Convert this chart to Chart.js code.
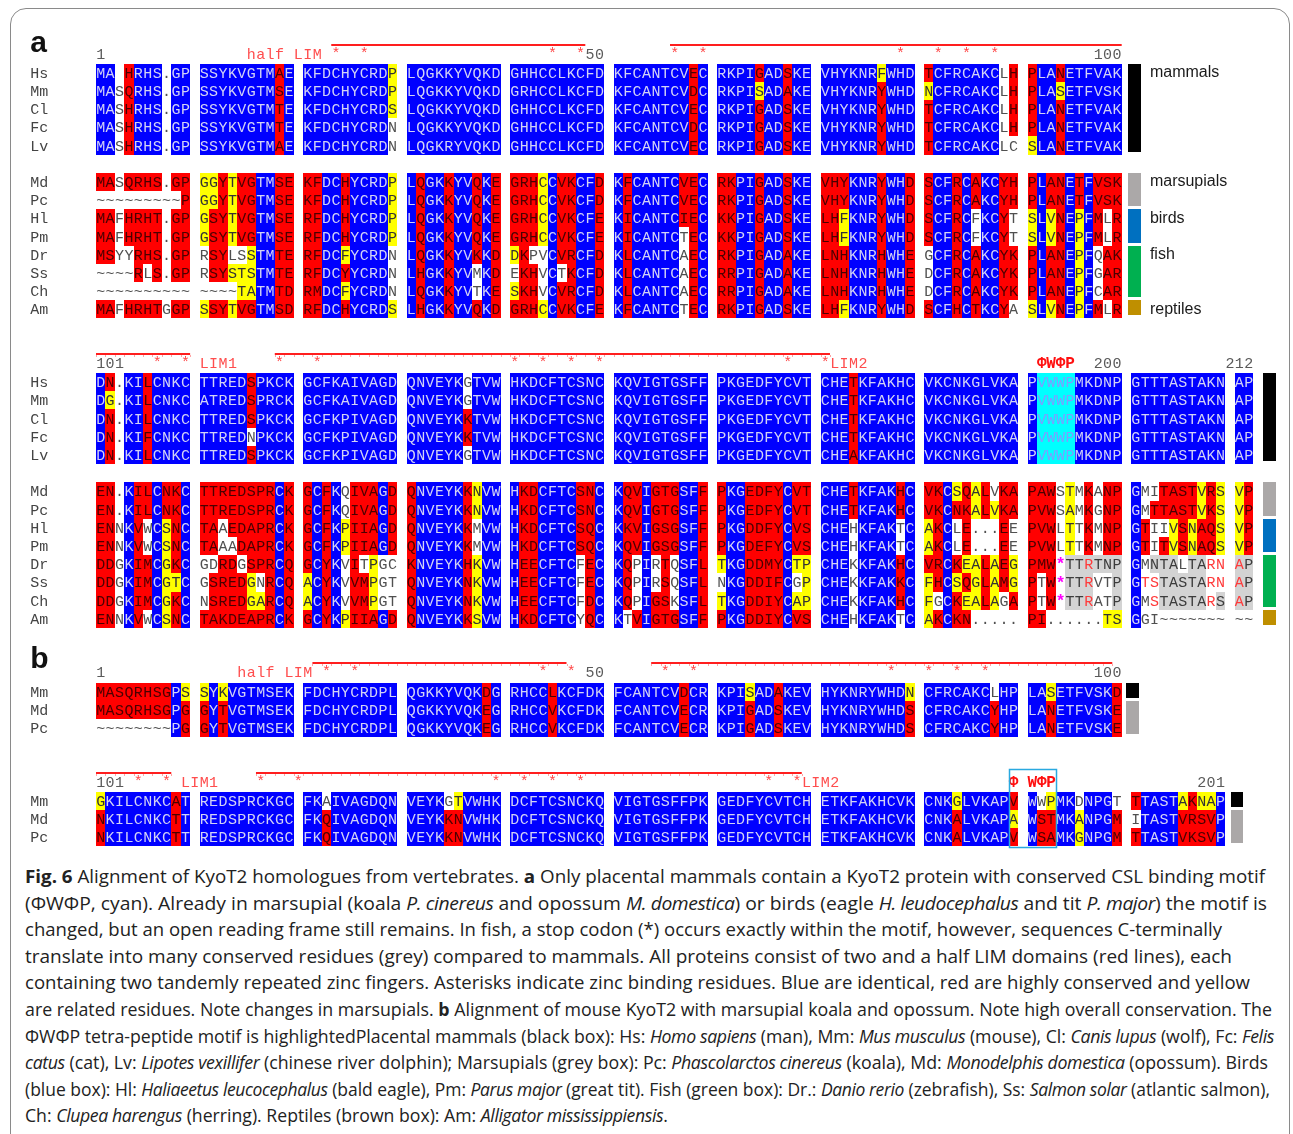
<!DOCTYPE html>
<html>
<head>
<meta charset="utf-8">
<script src="https://cdn.jsdelivr.net/npm/chart.js@4.4.0/dist/chart.umd.min.js"></script>
<style>
  html, body { margin: 0; padding: 0; background: #fff; }
  body { width: 1293px; height: 1134px; position: relative; overflow: hidden; }
  #frame { position: absolute; left: 10px; top: 8px; width: 1278px; height: 1200px; border: 1px solid #8a8a8a; border-radius: 16px; }
  #wrap { position: absolute; left: 0; top: 0; width: 1293px; height: 860px; }
  #caption { position: absolute; left: 25px; top: 863px; font-family: 'Open Sans', 'Noto Sans', sans-serif; font-size: 18.5px; line-height: 26.6px; color: #222; white-space: nowrap; }
  #caption > div { height: 26.6px; }
  #caption > div > span { display: inline-block; transform-origin: 0 50%; }
  #caption i { letter-spacing: -0.4px; }
</style>
</head>
<body>
<div id="frame"></div>
<div id="wrap"><canvas id="aln"></canvas></div>
<div id="caption">
<div><span><b>Fig. 6</b> Alignment of KyoT2 homologues from vertebrates. <b>a</b> Only placental mammals contain a KyoT2 protein with conserved CSL binding motif</span></div>
<div><span>(ΦWΦP, cyan). Already in marsupial (koala <i>P. cinereus</i> and opossum <i>M. domestica</i>) or birds (eagle <i>H. leudocephalus</i> and tit <i>P. major</i>) the motif is</span></div>
<div><span>changed, but an open reading frame still remains. In fish, a stop codon (*) occurs exactly within the motif, however, sequences C-terminally</span></div>
<div><span>translate into many conserved residues (grey) compared to mammals. All proteins consist of two and a half LIM domains (red lines), each</span></div>
<div><span>containing two tandemly repeated zinc fingers. Asterisks indicate zinc binding residues. Blue are identical, red are highly conserved and yellow</span></div>
<div><span>are related residues. Note changes in marsupials. <b>b</b> Alignment of mouse KyoT2 with marsupial koala and opossum. Note high overall conservation. The</span></div>
<div><span>ΦWΦP tetra-peptide motif is highlightedPlacental mammals (black box): Hs: <i>Homo sapiens</i> (man), Mm: <i>Mus musculus</i> (mouse), Cl: <i>Canis lupus</i> (wolf), Fc: <i>Felis</i></span></div>
<div><span><i>catus</i> (cat), Lv: <i>Lipotes vexillifer</i> (chinese river dolphin); Marsupials (grey box): Pc: <i>Phascolarctos cinereus</i> (koala), Md: <i>Monodelphis domestica</i> (opossum). Birds</span></div>
<div><span>(blue box): Hl: <i>Haliaeetus leucocephalus</i> (bald eagle), Pm: <i>Parus major</i> (great tit). Fish (green box): Dr.: <i>Danio rerio</i> (zebrafish), Ss: <i>Salmon solar</i> (atlantic salmon),</span></div>
<div><span>Ch: <i>Clupea harengus</i> (herring). Reptiles (brown box): Am: <i>Alligator mississippiensis</i>.</span></div>
</div>
<script>
// Taxa
const taxaA = ['Hs', 'Mm', 'Cl', 'Fc', 'Lv', 'Md', 'Pc', 'Hl', 'Pm', 'Dr', 'Ss', 'Ch', 'Am'];
const taxaB = ['Mm', 'Md', 'Pc'];

// Panel a, residues 1-100
const seqA1 = [
  'MA-HRHS.GP SSYKVGTMAE KFDCHYCRDP LQGKKYVQKD GHHCCLKCFD KFCANTCVEC RKPIGADSKE VHYKNRFWHD TCFRCAKCLH PLANETFVAK',
  'MASQRHS.GP SSYKVGTMSE KFDCHYCRDP LQGKKYVQKD GRHCCLKCFD KFCANTCVDC RKPISADAKE VHYKNRYWHD NCFRCAKCLH PLASETFVSK',
  'MASHRHS.GP SSYKVGTMTE KFDCHYCRDS LQGKKYVQKD GHHCCLKCFD KFCANTCVEC RKPIGADSKE VHYKNRYWHD TCFRCAKCLH PLANETFVAK',
  'MASHRHS.GP SSYKVGTMTE KFDCHYCRDN LQGKKYVQKD GHHCCLKCFD KFCANTCVDC RKPIGADSKE VHYKNRYWHD TCFRCAKCLH PLANETFVAK',
  'MASHRHS.GP SSYKVGTMAE KFDCHYCRDN LQGKRYVQKD GHHCCLKCFD KFCANTCVEC RKPIGADSKE VHYKNRYWHD TCFRCAKCLC SLANETFVAK',
  'MASQRHS.GP GGYTVGTMSE KFDCHYCRDP LQGKKYVQKE GRHCCVKCFD KFCANTCVEC RKPIGADSKE VHYKNRYWHD SCFRCAKCYH PLANETFVSK',
  '~~~~~~~~~P GGYTVGTMSE KFDCHYCRDP LQGKKYVQKE GRHCCVKCFD KFCANTCVEC RKPIGADSKE VHYKNRYWHD SCFRCAKCYH PLANETFVSK',
  'MAFHRHT.GP GSYTVGTMSE RFDCHYCRDP LQGKKYVQKE GRHCCVKCFE KICANTCIEC KKPIGADSKE LHFKNRYWHD SCFRCFKCYT SLVNEPFMLR',
  'MAFHRHT.GP GSYTVGTMSE RFDCHYCRDP LQGKKYVQKE GRHCCVKCFE KICANTCTEC KKPIGADSKE LHFKNRYWHD SCFRCFKCYT SLVNEPFMLR',
  'MSYYRHS.GP RSYLSSTMTE RFDCFYCRDN LQGKKYVKKD DKPVCVRCFD KLCANTCAEC RKPIGADAKE LNHKNRHWHE GCFRCAKCYK PLANEPFQAK',
  '~~~~RLS.GP RSYSTSTMTE RFDCYYCRDN LHGKKYVMKD EKHVCTKCFD KLCANTCAEC RRPIGADAKE LNHKNRHWHE DCFRCAKCYK PLANEPFGAR',
  '~~~~~~~~~~ ~~~~TATMTD RMDCFYCRDN LQGKKYVTKE SKHVCVRCFD KLCANTCAEC RRPIGADAKE LNHKNRHWHE DCFRCAKCYK PLANEPFCAR',
  'MAFHRHTGGP SSYTVGTMSD RFDCHYCRDS LHGKKYVQKD GRHCCVKCFE KFCANTCTEC RKPIGADSKE LHFKNRYWHD SCFHCTKCYA SLVNEPFMLR'
];
// B blue (identical), R red (highly conserved), Y yellow (related), W white, C cyan (motif),
// g grey (conserved C-terminal), r grey with red letter, p white with red letter, m stop codon
const shadeA1 = [
  'BBWRBBBWBB BBBBBBBBRB BBBBBBBBBY BBBBBBBBBB BBBBBBBBBB BBBBBBBBRB BBBBRBBRBB BBBBBBYBBB RBBBBBBBWR RBBRBBBBBB',
  'BBWRBBBWBB BBBBBBBBRB BBBBBBBBBY BBBBBBBBBB BBBBBBBBBB BBBBBBBBRB BBBBYBBRBB BBBBBBRBBB YBBBBBBBWR RBBYBBBBBB',
  'BBWRBBBWBB BBBBBBBBRB BBBBBBBBBY BBBBBBBBBB BBBBBBBBBB BBBBBBBBRB BBBBRBBRBB BBBBBBRBBB RBBBBBBBWR RBBRBBBBBB',
  'BBWRBBBWBB BBBBBBBBRB BBBBBBBBBW BBBBBBBBBB BBBBBBBBBB BBBBBBBBRB BBBBRBBRBB BBBBBBRBBB RBBBBBBBWR RBBRBBBBBB',
  'BBWRBBBWBB BBBBBBBBRB BBBBBBBBBW BBBBBBBBBB BBBBBBBBBB BBBBBBBBRB BBBBRBBRBB BBBBBBRBBB RBBBBBBBWW YBBRBBBBBB',
  'RRWRRRRWRR YYRYRRBBRR RRBBRBBBBY BRBBRBBRBR RRRYBRRBBR BRBBBBBRRB RRBBRBBRBB RRRBBBRBBR RBBRBRBBRR RBRRBRBRRR',
  'WWWWWWWWWR YYRYRRBBRR RRBBRBBBBY BRBBRBBRBR RRRYBRRBBR BRBBBBBRRB RRBBRBBRBB RRRBBBRBBR RBBRBRBBRR RBRRBRBRRR',
  'RRWRRRRWRR YRRYRRBBRR RRBBRBBBBY BRBBRBBRBR RRRYBRRBBR BRBBBBBRRB RRBBRBBRBB RRYBBBRBBR RBBRBWBBRW YBYRBYBRWR',
  'RRWRRRRWRR YRRYRRBBRR RRBBRBBBBY BRBBRBBRBR RRRYBRRBBR BRBBBBBWRB RRBBRBBRBB RRYBBBRBBR RBBRBWBBRW YBYRBYBRWR',
  'RRWWRRRWRR WRRWWYBBRR RRBBYBBBBW BRBBRBBRBR YRWWBRRBBR BRBBBBBWRB RRBBRBBRBB RRRBBBRBBR WBBRBRBBRR RBRRBYBWRR',
  'WWWWRWRWRR WRRYYYBBRR RRBBRBBBBW BRBBRBBWBR WRRWBWRBBR BRBBBBBWRB RRBBRBBRBB RRRBBBRBBR WBBRBRBBRR RBRRBYBWRR',
  'WWWWWWWWWW WWWWYYBBRR RRBBYBBBBW BRBBRBBWBR YRRWBRRBBR BRBBBBBWRB RRBBRBBRBB RRRBBBRBBR WBBRBRBBRR RBRRBYBWRR',
  'RRWRRRRWRR YRRYRRBBRR RRBBRBBBBY BRBBRBBRBR RRRYBRRBBR BRBBBBBWRB RRBBRBBRBB RRYBBBRBBR RBBRBRBBRW YBYRBYBRWR'
];

// Panel a, residues 101-212
const seqA2 = [
  'DN.KILCNKC TTREDSPKCK GCFKAIVAGD QNVEYKGTVW HKDCFTCSNC KQVIGTGSFF PKGEDFYCVT CHETKFAKHC VKCNKGLVKA PVWWPMKDNP GTTTASTAKN AP',
  'DG.KILCNKC ATREDSPRCK GCFKAIVAGD QNVEYKGTVW HKDCFTCSNC KQVIGTGSFF PKGEDFYCVT CHETKFAKHC VKCNKGLVKA PVWWPMKDNP GTTTASTAKN AP',
  'DN.KILCNKC TTREDSPKCK GCFKPIVAGD QNVEYKKTVW HKDCFTCSNC KQVIGTGSFF PKGEDFYCVT CHETKFAKHC VKCNKGLVKA PVWWPMKDNP GTTTASTAKN AP',
  'DN.KIFCNKC TTREDNPKCK GCFKPIVAGD QNVEYKKTVW HKDCFTCSNC KQVIGTGSFF PKGEDFYCVT CHETKFAKHC VKCNKGLVKA PVWWPMKDNP GTTTASTAKN AP',
  'DN.KILCNKC TTREDSPKCK GCFKPIVAGD QNVEYKGTVW HKDCFTCSNC KQVIGTGSFF PKGEDFYCVT CHEAKFAKHC VKCNKGLVKA PVWWPMKDNP GTTTASTAKN AP',
  'EN.KILCNKC TTREDSPRCK GCFKQIVAGD QNVEYKKNVW HKDCFTCSNC KQVIGTGSFF PKGEDFYCVT CHETKFAKHC VKCSQALVKA PAWSTMKANP GMITASTVRS VP',
  'EN.KILCNKC TTREDSPRCK GCFKQIVAGD QNVEYKKNVW HKDCFTCSNC KQVIGTGSFF PKGEDFYCVT CHETKFAKHC VKCNKALVKA PVWSAMKGNP GMTTASTVKS VP',
  'ENNKVWCSNC TAAEDAPRCK GCFKPIIAGD QNVEYKKMVW HKDCFTCSQC KKVIGSGSFF PKGDDFYCVS CHEHKFAKTC AKCLE...EE PVWLTTKMNP GTIIVSNAQS VP',
  'ENNKVWCSNC TAAADAPRCK GCFKPIIAGD QNVEYKKMVW HKDCFTCSQC KQVIGSGSFF PKGDEFYCVS CHEHKFAKTC AKCLE...EE PVWLTTKMNP GTITVSNAQS VP',
  'DDGKIMCGKC GDRDGSPRCQ GCYKVITPGC KNVEYKHKVW HEECFTCFEC KQPIRTQSFL TKGDDMYCTP CHEKKFAKHC VRCKEALAEG PMW*TTRTNP GMNTALTARN AP',
  'DDGKIMCGTC GSREDGNRCQ ACYKVVMPGT QNVEYKNKVW HEECFTCFEC KQPIRSQSFL NKGDDIFCGP CHEKKFAKKC FHCSQGLAMG PTW*TTRVTP GTSTASTARN AP',
  'DDGKIMCGKC NSREDGARCQ ACYKVVMPGT QNVEYKNKVW HEECFTCFDC KQPIGSKSFL TKGDDIYCAP CHEKKFAKHC FGCKEALAGA PTW*TTRATP GMSTASTARS AP',
  'ENNKVWCSNC TAKDEAPRCK GCYKPIIAGD QNVEYKKSVW HKDCFTCYQC KTVIGTGSFF PKGDDIYCVS CHEHKFAKTC AKCKN..... PI......TS GGI~~~~~~~ ~~'
];
const shadeA2 = [
  'BRWBBRBBBB BBBBBRBBBB BBBBBBBBBB BBBBBBWBBB BBBBBBBBBB BBBBBBBBBB BBBBBBBBBB BBBRBBBBBB BBBBBBBBBB BCCCCBBBBB BBBBBBBBBB BB',
  'BYWBBRBBBB BBBBBRBBBB BBBBBBBBBB BBBBBBWBBB BBBBBBBBBB BBBBBBBBBB BBBBBBBBBB BBBRBBBBBB BBBBBBBBBB BCCCCBBBBB BBBBBBBBBB BB',
  'BRWBBRBBBB BBBBBRBBBB BBBBBBBBBB BBBBBBRBBB BBBBBBBBBB BBBBBBBBBB BBBBBBBBBB BBBRBBBBBB BBBBBBBBBB BCCCCBBBBB BBBBBBBBBB BB',
  'BRWBBRBBBB BBBBBWBBBB BBBBBBBBBB BBBBBBRBBB BBBBBBBBBB BBBBBBBBBB BBBBBBBBBB BBBRBBBBBB BBBBBBBBBB BCCCCBBBBB BBBBBBBBBB BB',
  'BRWBBRBBBB BBBBBRBBBB BBBBBBBBBB BBBBBBWBBB BBBBBBBBBB BBBBBBBBBB BBBBBBBBBB BBBRBBBBBB BBBBBBBBBB BCCCCBBBBB BBBBBBBBBB BB',
  'RRWBRRBRRB RRRRRRRRBR RBRBWRRRBR RBBBBBRYBB BRRBBBBRRB BRRBRRRBBR RBBRRRRBRR BBBRBBBBRB RRBYRYRWRR RRRWYWRWRR BWWRRRRYRY YR',
  'RRWBRRBRRB RRRRRRRRBR RBRBWRRRBR RBBBBBRYBB BRRBBBBRRB BRRBRRRBBR RBBRRRRBRR BBBRBBBBRB RRBRRYRYRR RRRWYWRWRR BWRRRRRYRY YR',
  'RRWBRWBYRB RRWRRRRRBR RBRBYRRRBR RBBBBBRWBB BRRBBBBRRB BRRBRRRBBR RBBRRRRBRR BBBWBBBBWB YRBWRWWWRW RRRWYWRWRR BRWWYRYRRY YR',
  'RRWBRWBYRB RRWWRRRRBR RBRBYRRRBR RBBBBBRWBB BRRBBBBRRB BRRBRRRBBR RBBRRRRBRR BBBWBBBBWB YRBWRWWWRW RRRWYWRWRR BRWRYRYRRY YR',
  'RRWBRRBYRB WWRRWRRRBR RBRBWRWYWW RBBBBBRYBB BRRBBBBWRB BRWBWRWBBR YBBRRRRBYY BBBWBBBBRB RRBRYYRYRY RRRmggrggg BWgggWggpp rg',
  'RRWBRRBYYB WRRRRYWRBR YBRBWRRYWW RBBBBBRYBB BRRBBBBWRB BRWBWRWBBR WBBRRRRBWY BBBWBBBBRB YRBYRYRYRY RWRmggrWWg Bppgggggpp rg',
  'RRWBRRBYRB WRRRRYYRBR YBRBWRRYWW RBBBBBRYBB BRRBBBBWRB BRWBRRWBBR YBBRRRRBYY BBBWBBBBRB YWBRYYRYWR RWRmggrWWg BWpgggggpg rg',
  'RRWBRWBYRB RRRRRRRRBR RBRBYRRRBR RBBBBBRYBB BRRBBBBWRB BWRBRRRBBR RBBRRRRBRR BBBWBBBBWB YRBRRWWWWW RRWWWWWWYY BWWWWWWWWW WW'
];

// Panel b, residues 1-100 and 101-201
const seqB1 = [
  'MASQRHSGPS SYKVGTMSEK FDCHYCRDPL QGKKYVQKDG RHCCLKCFDK FCANTCVDCR KPISADAKEV HYKNRYWHDN CFRCAKCLHP LASETFVSKD',
  'MASQRHSGPG GYTVGTMSEK FDCHYCRDPL QGKKYVQKEG RHCCVKCFDK FCANTCVECR KPIGADSKEV HYKNRYWHDS CFRCAKCYHP LANETFVSKE',
  '~~~~~~~~PG GYTVGTMSEK FDCHYCRDPL QGKKYVQKEG RHCCVKCFDK FCANTCVECR KPIGADSKEV HYKNRYWHDS CFRCAKCYHP LANETFVSKE'
];
const shadeB1 = [
  'RRRRRRRRBY YBYBBBBBBB BBBBBBBBBB BBBBBBBBRB BBBBRBBBBB BBBBBBBRBB BBBYBBRBBB BBBBBBBBBY BBBBBBBWBB BBYBBBBBBR',
  'RRRRRRRRBR RBRBBBBBBB BBBBBBBBBB BBBBBBBBRB BBBBRBBBBB BBBBBBBRBB BBBRBBRBBB BBBBBBBBBR BBBBBBBRBB BBRBBBBBBR',
  'WWWWWWWWBR RBRBBBBBBB BBBBBBBBBB BBBBBBBBRB BBBBRBBBBB BBBBBBBRBB BBBRBBRBBB BBBBBBBBBR BBBBBBBRBB BBRBBBBBBR'
];
const seqB2 = [
  'GKILCNKCAT REDSPRCKGC FKAIVAGDQN VEYKGTVWHK DCFTCSNCKQ VIGTGSFFPK GEDFYCVTCH ETKFAKHCVK CNKGLVKAPV WWPMKDNPGT TTASTAKNAP',
  'NKILCNKCTT REDSPRCKGC FKQIVAGDQN VEYKKNVWHK DCFTCSNCKQ VIGTGSFFPK GEDFYCVTCH ETKFAKHCVK CNKALVKAPA WSTMKANPGM ITASTVRSVP',
  'NKILCNKCTT REDSPRCKGC FKQIVAGDQN VEYKKNVWHK DCFTCSNCKQ VIGTGSFFPK GEDFYCVTCH ETKFAKHCVK CNKALVKAPV WSAMKGNPGM TTASTVKSVP'
];
const shadeB2 = [
  'YBBBBBBBRB BBBBBBBBBB BBWBBBBBBB BBBBWYBBBB BBBBBBBBBB BBBBBBBBBB BBBBBBBBBB BBBBBBBBBB BBBYBBBBBR BWYBBWBBBW RBBBBYRYYB',
  'RBBBBBBBRB BBBBBBBBBB BBRBBBBBBB BBBBRRBBBB BBBBBBBBBB BBBBBBBBBB BBBBBBBBBB BBBBBBBBBB BBBRBBBBBY BRRBBYBBBR WBBBBRRRRB',
  'RBBBBBBBRB BBBBBBBBBB BBRBBBBBBB BBBBRRBBBB BBBBBBBBBB BBBBBBBBBB BBBBBBBBBB BBBBBBBBBB BBBRBBBBBR BRRBBYBBBR RBBBBRRRRB'
];

// Ruler annotations, in alignment columns (spacer columns included)
const starsA1 = [25, 28, 48, 51, 61, 64, 85, 89, 92, 95];
const starsA2 = [6, 9, 19, 23, 44, 47, 50, 53, 73, 77];
const starsB1 = [24, 27, 47, 50, 60, 63, 84, 88, 91, 94];
const starsB2 = [4, 7, 17, 21, 42, 45, 48, 51, 71, 74];
const marksA1 = [{ col: 0, text: '1', kind: 'num' }, { col: 16, text: 'half LIM', kind: 'lim' },
  { col: 53, text: '50', kind: 'num', right: true }, { col: 108, text: '100', kind: 'num', right: true }];
const marksA2 = [{ col: 0, text: '101', kind: 'num' }, { col: 11, text: 'LIM1', kind: 'lim' },
  { col: 78, text: 'LIM2', kind: 'lim' }, { col: 100, text: 'ΦWΦP', kind: 'motif' },
  { col: 108, text: '200', kind: 'num', right: true }, { col: 122, text: '212', kind: 'num', right: true }];
const marksB1 = [{ col: 0, text: '1', kind: 'num' }, { col: 15, text: 'half LIM', kind: 'lim' },
  { col: 53, text: '50', kind: 'num', right: true }, { col: 108, text: '100', kind: 'num', right: true }];
const marksB2 = [{ col: 0, text: '101', kind: 'num' }, { col: 9, text: 'LIM1', kind: 'lim' },
  { col: 75, text: 'LIM2', kind: 'lim' }, { col: 97, text: 'Φ', kind: 'motif' }, { col: 99, text: 'WΦP', kind: 'motif' },
  { col: 119, text: '201', kind: 'num', right: true }];
const limsA1 = [[25, 51], [61, 108]];
const limsA2 = [[0, 9], [19, 77]];
const limsB1 = [[23, 49], [59, 107]];
const limsB2 = [[0, 7], [17, 74]];

const groupsA = [
  { name: 'mammals', from: 0, to: 4, color: '#000000' },
  { name: 'marsupials', from: 5, to: 6, color: '#ABA8A8' },
  { name: 'birds', from: 7, to: 8, color: '#0070C0' },
  { name: 'fish', from: 9, to: 11, color: '#00B050' },
  { name: 'reptiles', from: 12, to: 12, color: '#BF8F00' }
];
const groupsB = [
  { name: 'mammals', from: 0, to: 0, color: '#000000' },
  { name: 'marsupials', from: 1, to: 2, color: '#ABA8A8' }
];

const CELL = {
  B: { bg: '#0000FF', fg: '#D2D2F6' },
  R: { bg: '#FF0000', fg: '#4A0000' },
  Y: { bg: '#FFFF00', fg: '#333333' },
  W: { bg: null, fg: '#505050' },
  C: { bg: '#00FFFF', fg: '#7F9CFF' },
  g: { bg: '#D3D3D3', fg: '#3C3C3C' },
  r: { bg: '#D3D3D3', fg: '#FF3B3B' },
  p: { bg: null, fg: '#FF3B3B' },
  m: { bg: null, fg: '#FF00FF' }
};

// caption line right edges in the original figure
const captionRight = [1265, 1267, 1222, 1232, 1250, 1272, 1274, 1268, 1270, 668];

// layout: x in alignment columns, y in text lines
const COL_PX = 9.41, LINE_PX = 18.2, H = 860, W = 1293;
const X_MIN = -96 / COL_PX, Y_MIN = -54.6 / LINE_PX;

const panels = [
  { panel: 'a', panelOff: -0.15, ruler: 0, taxa: taxaA, seq: seqA1, shade: shadeA1, gapAfter: 5,
    stars: starsA1, marks: marksA1, lims: limsA1, ticked: false, barCol: 109.7, groups: groupsA, legend: true },
  { ruler: 17, taxa: taxaA, seq: seqA2, shade: shadeA2, gapAfter: 5,
    stars: starsA2, marks: marksA2, lims: limsA2, ticked: true, barCol: 124.05, groups: groupsA },
  { panel: 'b', panelOff: -0.3, ruler: 34, taxa: taxaB, seq: seqB1, shade: shadeB1,
    stars: starsB1, marks: marksB1, lims: limsB1, ticked: true, barCol: 109.5, groups: groupsB },
  { ruler: 40, taxa: taxaB, seq: seqB2, shade: shadeB2,
    stars: starsB2, marks: marksB2, lims: limsB2, ticked: true, barCol: 120.6, groups: groupsB, box: [97, 101] }
];

const MONO = '"Liberation Mono", "Courier New", monospace';

function rowLine(p, k) {
  return p.ruler + 1 + k + (p.gapAfter !== undefined && k >= p.gapAfter ? 1 : 0);
}

function drawPanel(ctx, xs, ys, p) {
  const px = c => xs.getPixelForValue(c);
  const py = l => ys.getPixelForValue(l);
  ctx.textBaseline = 'middle';

  if (p.panel) {
    ctx.font = 'bold 30px "Liberation Sans", Arial, sans-serif';
    ctx.fillStyle = '#111';
    ctx.textAlign = 'left';
    ctx.textBaseline = 'alphabetic';
    ctx.fillText(p.panel, px(-7), py(p.ruler + p.panelOff));
    ctx.textBaseline = 'middle';
  }

  // LIM domain lines
  const yl = Math.round(py(p.ruler - 0.55));
  p.lims.forEach(([c0, c1]) => {
    ctx.strokeStyle = '#FF1E1E';
    ctx.lineWidth = 2;
    ctx.beginPath(); ctx.moveTo(px(c0), yl); ctx.lineTo(px(c1 + 1), yl); ctx.stroke();
    if (p.ticked) {
      ctx.strokeStyle = 'rgba(255,90,90,0.55)';
      ctx.lineWidth = 1;
      for (let c = c0; c <= c1 + 1; c++) {
        const xx = Math.round(px(c)) + 0.5;
        ctx.beginPath(); ctx.moveTo(xx, yl + 1); ctx.lineTo(xx, yl + 3); ctx.stroke();
      }
    }
  });

  // ruler: stars, numbers, labels
  ctx.textAlign = 'center';
  ctx.font = '15px ' + MONO;
  ctx.fillStyle = '#FF4545';
  p.stars.forEach(c => ctx.fillText('*', px(c + 0.5), py(p.ruler) - 1));
  p.marks.forEach(m => {
    const start = m.right ? m.col - m.text.length + 1 : m.col;
    if (m.kind === 'num') { ctx.font = '15px ' + MONO; ctx.fillStyle = '#5A5A5A'; }
    else if (m.kind === 'lim') { ctx.font = '15px ' + MONO; ctx.fillStyle = '#FF4D4D'; }
    else { ctx.font = 'bold 16px ' + MONO; ctx.fillStyle = '#FF1010'; }
    [...m.text].forEach((ch, i) => ctx.fillText(ch, px(start + i + 0.5), py(p.ruler)));
  });

  // sequence rows
  p.taxa.forEach((name, k) => {
    const L = rowLine(p, k);
    const top = Math.round(py(L - 0.5)), bot = Math.round(py(L + 0.5));
    const s = p.seq[k], sh = p.shade[k];
    for (let i = 0; i < s.length; i++) {
      if (s[i] === ' ') continue;
      const st = CELL[sh[i]] || CELL.W;
      if (st.bg) {
        const l = Math.round(px(i)), r = Math.round(px(i + 1));
        ctx.fillStyle = st.bg;
        ctx.fillRect(l, top, r - l, bot - top);
      }
    }
    ctx.textAlign = 'center';
    for (let i = 0; i < s.length; i++) {
      const ch = s[i];
      if (ch === ' ' || ch === '-') continue;
      const st = CELL[sh[i]] || CELL.W;
      ctx.fillStyle = st.fg;
      ctx.font = (sh[i] === 'm' ? 'bold 17px ' : '15px ') + MONO;
      ctx.fillText(ch, px(i + 0.5), py(L) + 1);
    }
    ctx.textAlign = 'left';
    ctx.font = '15px ' + MONO;
    ctx.fillStyle = '#444';
    ctx.fillText(name, px(-7), py(L) + 1);
  });

  // taxon group bars and legend
  p.groups.forEach(g => {
    const t = Math.round(py(rowLine(p, g.from) - 0.5));
    const b = Math.round(py(rowLine(p, g.to) + 0.5)) - 3;
    const l = Math.round(px(p.barCol)), r = Math.round(px(p.barCol + 1.3));
    ctx.fillStyle = g.color;
    ctx.fillRect(l, t, r - l, b - t);
    if (p.legend) {
      ctx.font = '16px "Liberation Sans", Arial, sans-serif';
      ctx.fillStyle = '#1a1a1a';
      ctx.textAlign = 'left';
      ctx.fillText(g.name, px(112), py(rowLine(p, g.from)));
    }
  });

  // motif box
  if (p.box) {
    const l = Math.round(px(p.box[0])) + 0.5, r = Math.round(px(p.box[1] + 1)) + 0.5;
    const t = Math.round(py(p.ruler - 0.75)) + 0.5;
    const b = Math.round(py(rowLine(p, p.taxa.length - 1) + 0.55)) + 0.5;
    ctx.strokeStyle = '#2AA9E0';
    ctx.lineWidth = 1.5;
    ctx.strokeRect(l, t, r - l, b - t);
  }
}

const alignmentPlugin = {
  id: 'alignment',
  afterDatasetsDraw(chart) {
    const { ctx, scales } = chart;
    ctx.save();
    panels.forEach(p => drawPanel(ctx, scales.x, scales.y, p));
    ctx.restore();
  }
};

new Chart(document.getElementById('aln'), {
  type: 'scatter',
  data: { datasets: [{ data: [], pointRadius: 0 }] },
  options: {
    responsive: true,
    maintainAspectRatio: false,
    animation: false,
    layout: { padding: 0 },
    scales: {
      x: { type: 'linear', display: false, min: X_MIN, max: X_MIN + W / COL_PX },
      y: { type: 'linear', display: false, reverse: true, min: Y_MIN, max: Y_MIN + H / LINE_PX }
    },
    plugins: { legend: { display: false }, tooltip: { enabled: false } }
  },
  plugins: [alignmentPlugin]
});

// fit each caption line to the width it has in the original
function fitCaption() {
  document.querySelectorAll('#caption > div > span').forEach((s, i) => {
    s.style.transform = 'none';
    const w = s.getBoundingClientRect().width;
    if (w > 0) s.style.transform = 'scaleX(' + ((captionRight[i] - 25) / w) + ')';
  });
}
fitCaption();
if (document.fonts && document.fonts.ready) document.fonts.ready.then(fitCaption);
</script>
</body>
</html>
